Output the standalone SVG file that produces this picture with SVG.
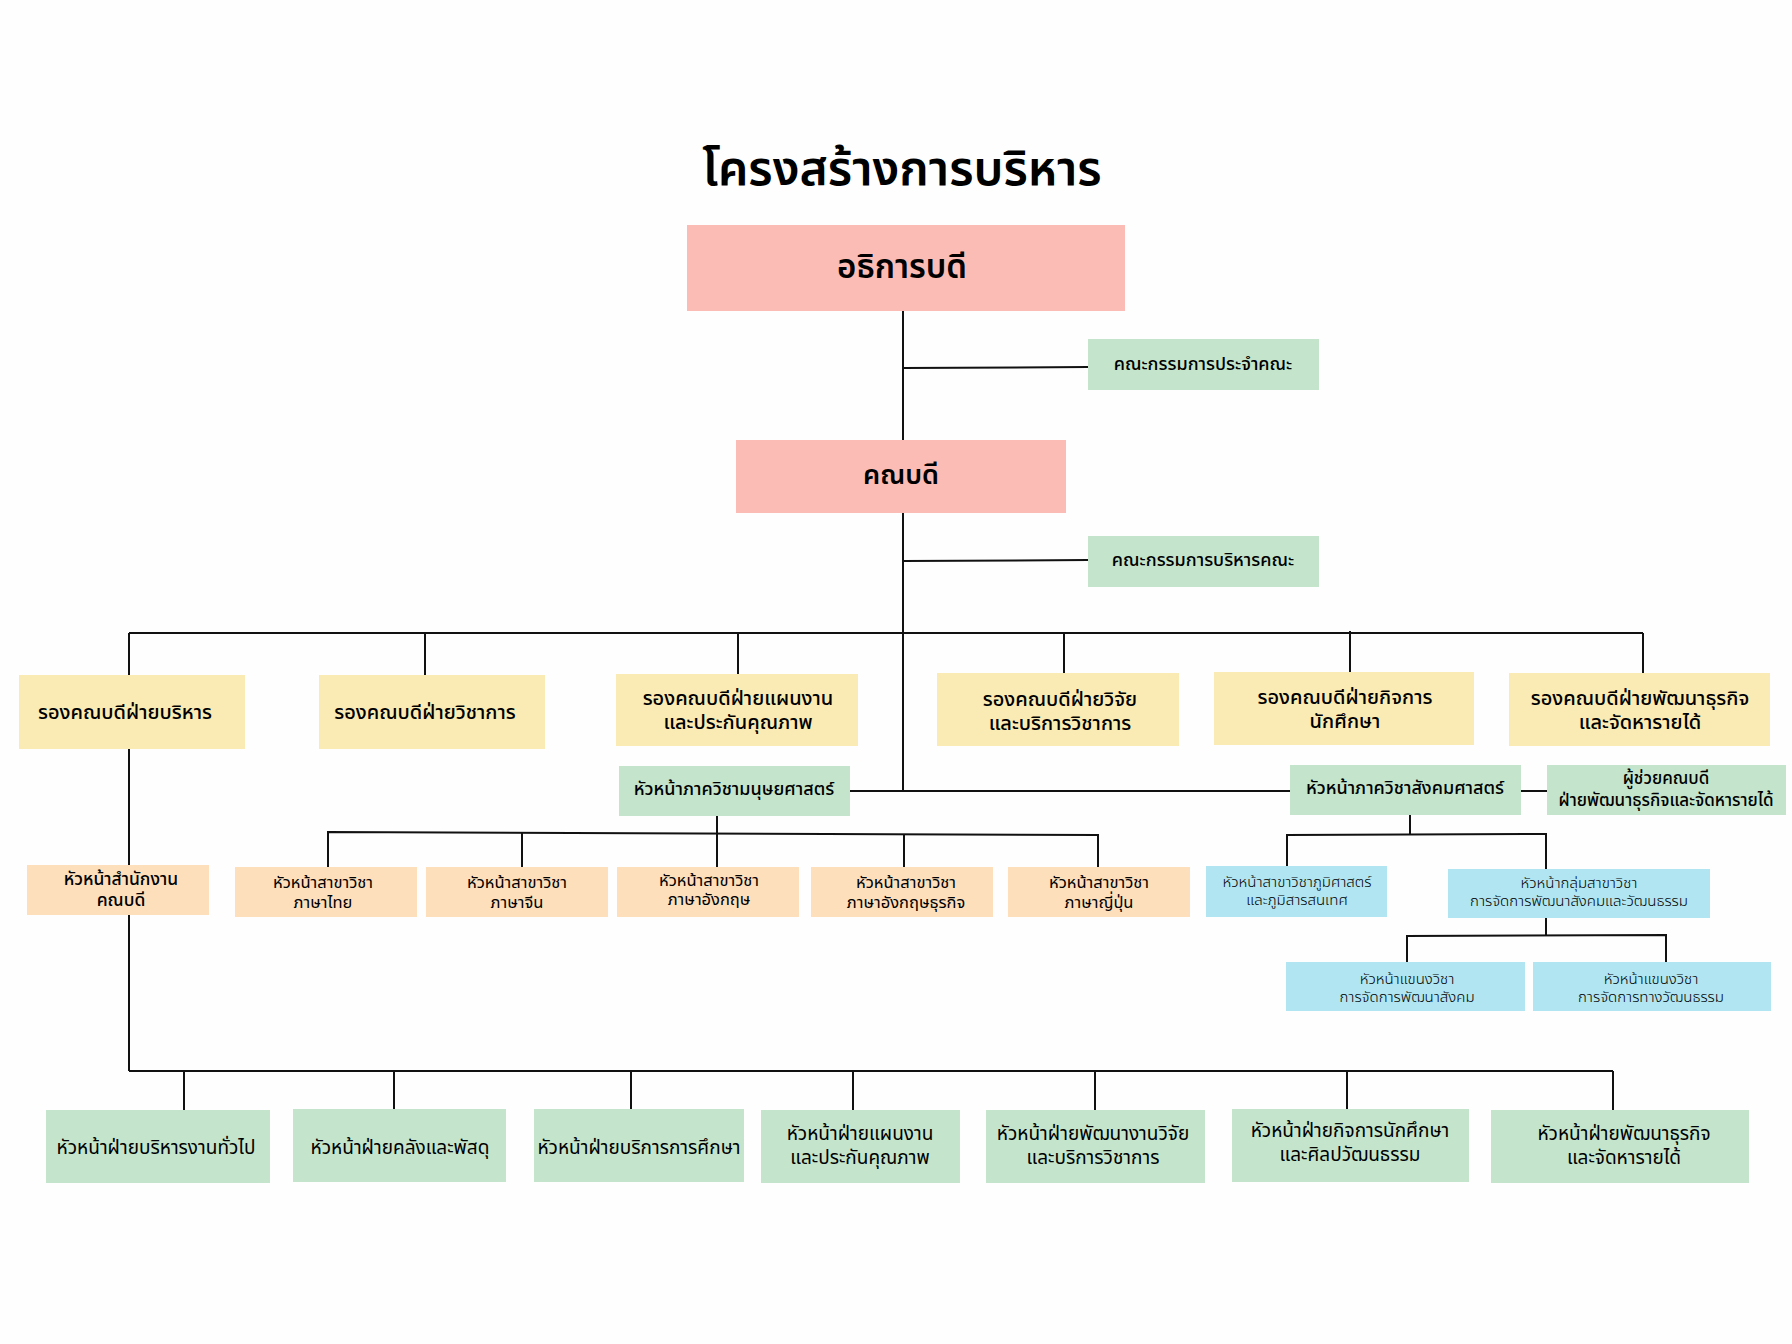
<svg xmlns="http://www.w3.org/2000/svg" width="1792" height="1344" viewBox="0 0 1792 1344">
<style>
text{font-family:"Noto Sans Thai","Noto Sans Thai UI","Noto Sans","DejaVu Sans",sans-serif;fill:#000;text-anchor:middle;dominant-baseline:central}
.pink{fill:#FABCB5}
.yel{fill:#FAEBB4}
.grn{fill:#C4E5CB}
.org{fill:#FDDFBC}
.blu{fill:#B0E5F1}
.t1{font-size:33px;font-weight:600}
.ty{font-size:20px;font-weight:500}
.tg{font-size:18px;font-weight:500}
.to{font-size:16.5px;font-weight:400}
.tb{font-size:15px;font-weight:300}
.tw{font-size:19px;font-weight:400}
#connectors line,#connectors polyline{stroke:#111;stroke-width:2;fill:none}
</style>
<rect width="1792" height="1344" fill="#FEFEFE"/>
<text x="902" y="170" style="font-size:48px;font-weight:600">โครงสร้างการบริหาร</text>
<g id="connectors">
<line x1="903" y1="311" x2="903" y2="440"/>
<line x1="903" y1="368" x2="1088" y2="367"/>
<line x1="903" y1="513" x2="903" y2="791"/>
<line x1="903" y1="561" x2="1088" y2="560"/>
<line x1="129" y1="633" x2="1643" y2="633"/>
<line x1="129" y1="633" x2="129" y2="675"/>
<line x1="425" y1="633" x2="425" y2="675"/>
<line x1="738" y1="633" x2="738" y2="674"/>
<line x1="1064" y1="633" x2="1064" y2="673"/>
<line x1="1350" y1="631" x2="1350" y2="672"/>
<line x1="1643" y1="633" x2="1643" y2="673"/>
<line x1="850" y1="791" x2="1290" y2="791"/>
<line x1="1521" y1="791" x2="1547" y2="791"/>
<line x1="129" y1="749" x2="129" y2="865"/>
<line x1="129" y1="915" x2="129" y2="1071"/>
<line x1="129" y1="1071" x2="1613" y2="1071"/>
<line x1="184" y1="1071" x2="184" y2="1110"/>
<line x1="394" y1="1071" x2="394" y2="1109"/>
<line x1="631" y1="1071" x2="631" y2="1109"/>
<line x1="853" y1="1071" x2="853" y2="1110"/>
<line x1="1095" y1="1071" x2="1095" y2="1110"/>
<line x1="1347" y1="1071" x2="1347" y2="1109"/>
<line x1="1613" y1="1071" x2="1613" y2="1110"/>
<line x1="717" y1="816" x2="717" y2="867"/>
<polyline points="328,867 328,832 1098,835 1098,867"/>
<line x1="522" y1="833" x2="522" y2="867"/>
<line x1="904" y1="834" x2="904" y2="867"/>
<line x1="1410" y1="815" x2="1410" y2="834"/>
<polyline points="1287,866 1287,835 1546,834 1546,869"/>
<line x1="1546" y1="918" x2="1546" y2="935"/>
<polyline points="1407,962 1407,936 1666,935 1666,962"/>
</g>
<g id="n-acting-president"><rect class="pink" x="687" y="225" width="438" height="86"/><text class="t1" x="902" y="268">อธิการบดี</text></g>
<g id="n-faculty-committee"><rect class="grn" x="1088" y="339" width="231" height="51"/><text class="tg" x="1203" y="364">คณะกรรมการประจำคณะ</text></g>
<g id="n-dean"><rect class="pink" x="736" y="440" width="330" height="73"/><text class="t1" x="901" y="475" style="font-size:27px">คณบดี</text></g>
<g id="n-exec-committee"><rect class="grn" x="1088" y="536" width="231" height="51"/><text class="tg" x="1203" y="560">คณะกรรมการบริหารคณะ</text></g>
<g id="n-vd-admin"><rect class="yel" x="19" y="675" width="226" height="74"/><text class="ty" x="125" y="713">รองคณบดีฝ่ายบริหาร</text></g>
<g id="n-vd-academic"><rect class="yel" x="319" y="675" width="226" height="74"/><text class="ty" x="425" y="713">รองคณบดีฝ่ายวิชาการ</text></g>
<g id="n-vd-plan"><rect class="yel" x="616" y="674" width="242" height="72"/><text class="ty"><tspan x="738" y="699">รองคณบดีฝ่ายแผนงาน</tspan><tspan x="738" y="723">และประกันคุณภาพ</tspan></text></g>
<g id="n-vd-research"><rect class="yel" x="937" y="673" width="242" height="73"/><text class="ty"><tspan x="1060" y="700">รองคณบดีฝ่ายวิจัย</tspan><tspan x="1060" y="724">และบริการวิชาการ</tspan></text></g>
<g id="n-vd-student"><rect class="yel" x="1214" y="672" width="260" height="73"/><text class="ty"><tspan x="1345" y="698">รองคณบดีฝ่ายกิจการ</tspan><tspan x="1345" y="722">นักศึกษา</tspan></text></g>
<g id="n-vd-business"><rect class="yel" x="1509" y="673" width="261" height="73"/><text class="ty"><tspan x="1640" y="699">รองคณบดีฝ่ายพัฒนาธุรกิจ</tspan><tspan x="1640" y="723">และจัดหารายได้</tspan></text></g>
<g id="n-head-humanities"><rect class="grn" x="619" y="766" width="231" height="50"/><text class="tg" x="734" y="789">หัวหน้าภาควิชามนุษยศาสตร์</text></g>
<g id="n-head-social"><rect class="grn" x="1290" y="765" width="231" height="50"/><text class="tg" x="1405" y="788">หัวหน้าภาควิชาสังคมศาสตร์</text></g>
<g id="n-asst-dean"><rect class="grn" x="1547" y="765" width="239" height="50"/><text class="tg" style="font-size:17px"><tspan x="1666" y="779">ผู้ช่วยคณบดี</tspan><tspan x="1666" y="801">ฝ่ายพัฒนาธุรกิจและจัดหารายได้</tspan></text></g>
<g id="n-head-office"><rect class="org" x="27" y="865" width="182" height="50"/><text class="tg" style="font-size:17.5px"><tspan x="121" y="879">หัวหน้าสำนักงาน</tspan><tspan x="121" y="900">คณบดี</tspan></text></g>
<g id="n-thai"><rect class="org" x="235" y="867" width="182" height="50"/><text class="to"><tspan x="323" y="882">หัวหน้าสาขาวิชา</tspan><tspan x="323" y="902">ภาษาไทย</tspan></text></g>
<g id="n-chinese"><rect class="org" x="426" y="867" width="182" height="50"/><text class="to"><tspan x="517" y="882">หัวหน้าสาขาวิชา</tspan><tspan x="517" y="902">ภาษาจีน</tspan></text></g>
<g id="n-english"><rect class="org" x="617" y="867" width="182" height="50"/><text class="to"><tspan x="709" y="880">หัวหน้าสาขาวิชา</tspan><tspan x="709" y="899">ภาษาอังกฤษ</tspan></text></g>
<g id="n-bus-english"><rect class="org" x="811" y="867" width="182" height="50"/><text class="to"><tspan x="906" y="882">หัวหน้าสาขาวิชา</tspan><tspan x="906" y="902">ภาษาอังกฤษธุรกิจ</tspan></text></g>
<g id="n-japanese"><rect class="org" x="1008" y="867" width="182" height="50"/><text class="to"><tspan x="1099" y="882">หัวหน้าสาขาวิชา</tspan><tspan x="1099" y="902">ภาษาญี่ปุ่น</tspan></text></g>
<g id="n-geo"><rect class="blu" x="1206" y="866" width="181" height="51"/><text class="tb"><tspan x="1297" y="882">หัวหน้าสาขาวิชาภูมิศาสตร์</tspan><tspan x="1297" y="900">และภูมิสารสนเทศ</tspan></text></g>
<g id="n-group"><rect class="blu" x="1448" y="869" width="262" height="49"/><text class="tb"><tspan x="1579" y="883">หัวหน้ากลุ่มสาขาวิชา</tspan><tspan x="1579" y="901">การจัดการพัฒนาสังคมและวัฒนธรรม</tspan></text></g>
<g id="n-social-dev"><rect class="blu" x="1286" y="962" width="239" height="49"/><text class="tb"><tspan x="1407" y="979">หัวหน้าแขนงวิชา</tspan><tspan x="1407" y="997">การจัดการพัฒนาสังคม</tspan></text></g>
<g id="n-culture"><rect class="blu" x="1533" y="962" width="238" height="49"/><text class="tb"><tspan x="1651" y="979">หัวหน้าแขนงวิชา</tspan><tspan x="1651" y="997">การจัดการทางวัฒนธรรม</tspan></text></g>
<g id="n-general"><rect class="grn" x="46" y="1110" width="224" height="73"/><text class="tw" x="156" y="1148">หัวหน้าฝ่ายบริหารงานทั่วไป</text></g>
<g id="n-finance"><rect class="grn" x="293" y="1109" width="213" height="73"/><text class="tw" x="400" y="1148">หัวหน้าฝ่ายคลังและพัสดุ</text></g>
<g id="n-edu-service"><rect class="grn" x="534" y="1109" width="210" height="73"/><text class="tw" x="639" y="1148">หัวหน้าฝ่ายบริการการศึกษา</text></g>
<g id="n-plan"><rect class="grn" x="761" y="1110" width="199" height="73"/><text class="tw"><tspan x="860" y="1134">หัวหน้าฝ่ายแผนงาน</tspan><tspan x="860" y="1158">และประกันคุณภาพ</tspan></text></g>
<g id="n-research"><rect class="grn" x="986" y="1110" width="219" height="73"/><text class="tw"><tspan x="1093" y="1134">หัวหน้าฝ่ายพัฒนางานวิจัย</tspan><tspan x="1093" y="1158">และบริการวิชาการ</tspan></text></g>
<g id="n-student"><rect class="grn" x="1232" y="1109" width="237" height="73"/><text class="tw"><tspan x="1350" y="1131">หัวหน้าฝ่ายกิจการนักศึกษา</tspan><tspan x="1350" y="1155">และศิลปวัฒนธรรม</tspan></text></g>
<g id="n-business"><rect class="grn" x="1491" y="1110" width="258" height="73"/><text class="tw"><tspan x="1624" y="1134">หัวหน้าฝ่ายพัฒนาธุรกิจ</tspan><tspan x="1624" y="1158">และจัดหารายได้</tspan></text></g>
</svg>
